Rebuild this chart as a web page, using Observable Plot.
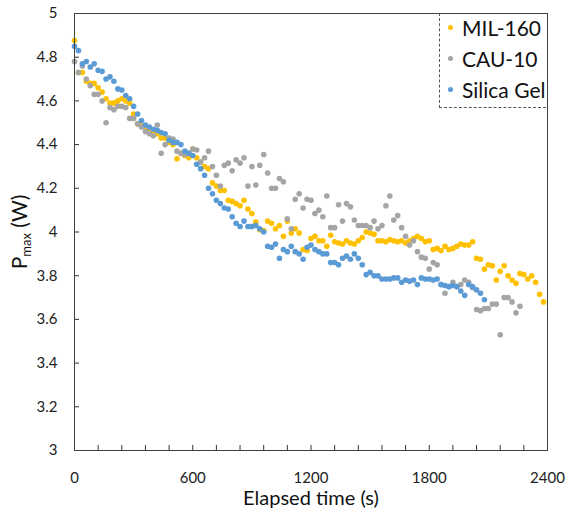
<!DOCTYPE html>
<html>
<head>
<meta charset="utf-8">
<script src="https://cdn.jsdelivr.net/npm/d3@7"></script>
<script src="https://cdn.jsdelivr.net/npm/@observablehq/plot@0.6"></script>
<style>
  body { margin: 0; background: #fff; }
  #wrap { position: relative; width: 567px; height: 521px; font-family: Lato, "Open Sans", sans-serif; }
  #legend { position: absolute; left: 439px; top: 13px; width: 107px; height: 95px;
            border-left: 1px dashed #555; border-bottom: 1px dashed #555; box-sizing: border-box; }
  .item { position: absolute; left: 0; height: 26px; display: flex; align-items: center; font-size: 21px; color: #111; }
  .sw { width: 5px; height: 5px; border-radius: 50%; margin-left: 8px; margin-right: 9px; }
</style>
</head>
<body>
<div id="wrap"><div id="chart"></div><div id="legend"></div></div>
<script>
// Sampling interval (s) of each series
const step = 20;

// MIL-160 Pmax (W), one value per 20 s starting at 0 s
const mil160 = [4.876,4.73,4.73,4.69,4.68,4.68,4.66,4.64,4.61,4.59,4.59,4.60,4.61,4.60,4.59,4.54,4.495,4.49,4.48,4.47,
  4.46,4.45,4.43,4.43,4.41,4.40,4.335,4.36,4.35,4.34,4.38,4.34,4.32,4.30,4.29,4.225,4.21,4.19,4.19,4.145,
  4.14,4.13,4.12,4.145,4.105,4.085,4.045,4.01,4.007,4.05,4.04,4.015,4.03,3.98,4.05,3.995,4.015,3.995,3.92,3.915,
  3.97,3.98,3.96,3.96,3.935,3.985,3.955,3.95,3.945,3.96,3.95,3.945,3.96,3.975,4.00,3.995,3.99,3.96,3.96,3.955,
  3.965,3.96,3.955,3.96,3.95,3.96,3.97,3.98,3.97,3.955,3.96,3.92,3.925,3.915,3.935,3.92,3.925,3.935,3.945,3.94,
  3.94,3.955,3.88,3.875,3.83,3.85,3.845,3.78,3.82,3.845,3.80,3.78,3.765,3.81,3.805,3.785,3.80,3.77,3.715,3.68];

// CAU-10 Pmax (W)
const cau10 = [4.78,4.73,4.76,4.70,4.67,4.63,4.63,4.60,4.50,4.57,4.56,4.575,4.575,4.57,4.52,4.52,4.495,4.48,4.46,4.45,
  4.44,4.49,4.36,4.40,4.43,4.425,4.37,4.36,4.355,4.36,4.38,4.375,4.32,4.34,4.37,4.30,4.26,4.21,4.305,4.315,
  4.28,4.33,4.315,4.34,4.21,4.30,4.215,4.305,4.355,4.27,4.20,4.20,4.245,4.23,4.06,4.015,4.15,4.175,4.11,4.15,
  4.145,4.085,4.10,4.07,4.165,4.02,4.02,4.125,4.05,4.13,4.115,4.055,4.03,4.03,4.03,4.02,4.05,4.015,4.03,4.12,
  4.165,4.055,4.075,4.02,3.98,3.94,3.96,3.91,3.885,3.88,3.83,3.86,3.85,3.76,3.72,3.75,3.77,3.75,3.76,3.78,
  3.77,3.745,3.645,3.64,3.65,3.65,3.67,3.67,3.53,3.70,3.70,3.68,3.63,3.66];

// Silica Gel Pmax (W)
const silica = [4.85,4.83,4.77,4.78,4.755,4.77,4.74,4.735,4.70,4.71,4.69,4.655,4.65,4.625,4.61,4.575,4.54,4.51,4.49,4.48,
  4.47,4.465,4.455,4.45,4.42,4.41,4.41,4.40,4.37,4.36,4.35,4.31,4.29,4.26,4.20,4.175,4.145,4.13,4.11,4.105,
  4.07,4.04,4.025,4.05,4.025,4.025,4.03,4.015,4.00,3.935,3.93,3.945,3.88,3.92,3.91,3.935,3.91,3.90,3.875,3.93,
  3.94,3.92,3.91,3.90,3.90,3.86,3.86,3.85,3.88,3.89,3.875,3.90,3.88,3.85,3.805,3.815,3.80,3.80,3.785,3.785,
  3.785,3.79,3.79,3.77,3.78,3.775,3.78,3.76,3.79,3.785,3.785,3.78,3.785,3.76,3.755,3.75,3.755,3.75,3.73,3.71,
  3.76,3.75,3.735,3.72,3.69];

const seriesNames = ["MIL-160", "CAU-10", "Silica Gel"];
const seriesColors = ["#FFC000", "#A5A5A5", "#5B9BD5"];
const xTickLabels = [0, 600, 1200, 1800, 2400];
const xMinorTicks = [0,120,240,360,480,600,720,840,960,1080,1200,1320,1440,1560,1680,1800,1920,2040,2160,2280,2400];
const yTickLabels = [3, 3.2, 3.4, 3.6, 3.8, 4, 4.2, 4.4, 4.6, 4.8, 5];

const rows = [];
[mil160, cau10, silica].forEach((arr, k) =>
  arr.forEach((v, i) => rows.push({t: i * step, v, s: seriesNames[k]})));

const W = 567, H = 521, mL = 74, mR = 20, mT = 13, mB = 71;
const frameW = W - mL - mR, frameH = H - mT - mB, tickLen = 5;

const chart = Plot.plot({
  width: W, height: H,
  marginLeft: mL, marginRight: mR, marginTop: mT, marginBottom: mB,
  x: {domain: [0, 2400]},
  y: {domain: [3, 5]},
  color: {domain: seriesNames, range: seriesColors},
  style: {fontFamily: "Lato, 'Open Sans', sans-serif", fontSize: "15px", color: "#222", background: "#fff"},
  marks: [
    Plot.dot(rows, {x: "t", y: "v", fill: "s", r: 2.8}),
    Plot.tickX(xMinorTicks, {x: d => d, insetTop: frameH - tickLen, stroke: "#333"}),
    Plot.tickY(yTickLabels, {y: d => d, insetRight: frameW - tickLen, stroke: "#333"}),
    Plot.axisX({ticks: xTickLabels, tickSize: 0, tickPadding: 22, label: null, fontSize: 15, tickFormat: d => String(d)}),
    Plot.axisY({ticks: yTickLabels, tickSize: 0, tickPadding: 17, label: null, fontSize: 15, tickFormat: d => String(d)}),
    Plot.frame({stroke: "#404040"}),
    Plot.text(["Elapsed time (s)"], {frameAnchor: "bottom", lineAnchor: "middle", dy: 48, fontSize: 20, fill: "#111"})
  ]
});
document.getElementById("chart").appendChild(chart);

// Y-axis title with subscript
const svg = d3.select(chart);
const yt = svg.append("text")
  .attr("transform", "translate(27,232) rotate(-90)")
  .attr("text-anchor", "middle")
  .attr("font-size", 21)
  .attr("fill", "#111")
  .attr("font-family", "Lato, 'Open Sans', sans-serif");
yt.append("tspan").text("P");
yt.append("tspan").attr("font-size", 13).attr("dy", 4).text("max");
yt.append("tspan").attr("dy", -4).text(" (W)");

// Legend
const legend = document.getElementById("legend");
seriesNames.forEach((name, i) => {
  const it = document.createElement("div");
  it.className = "item";
  it.style.top = (1 + i * 31) + "px";
  const sw = document.createElement("span");
  sw.className = "sw";
  sw.style.background = seriesColors[i];
  const tx = document.createElement("span");
  tx.textContent = name;
  it.appendChild(sw); it.appendChild(tx);
  legend.appendChild(it);
});
</script>
</body>
</html>
